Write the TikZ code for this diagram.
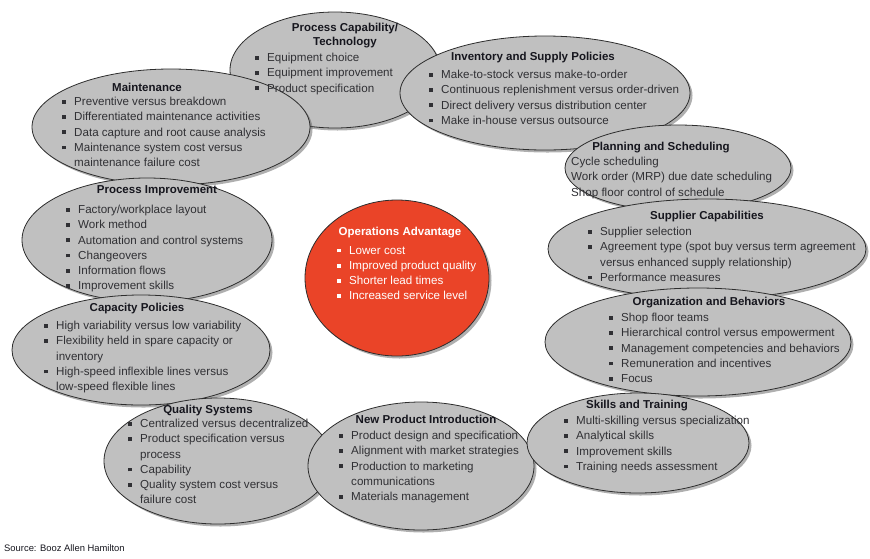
\documentclass[tikz,border=0pt]{standalone}
\usepackage{fontspec}
\setmainfont{Liberation Sans}
\usepackage{tikz}
\usetikzlibrary{shapes.geometric, shadows}
\definecolor{blobgrau}{RGB}{192,192,192}
\definecolor{rand}{RGB}{45,45,45}
\definecolor{schatten}{RGB}{95,95,95}
\definecolor{kern}{RGB}{234,68,40}
\definecolor{schrift}{RGB}{48,48,52}
\definecolor{titel}{RGB}{22,22,30}
\newcommand\itm{\llap{\rule[1.8pt]{3.8pt}{3.8pt}\hspace{8pt}}}

\begin{document}
\begin{tikzpicture}[x=1pt, y=-1pt,
    blob/.style={ellipse, draw=rand, line width=0.8pt, fill=blobgrau,
      drop shadow={shadow xshift=2.5pt, shadow yshift=-2.5pt, fill=schatten}},
    heading/.style={font=\fontsize{11.5}{14}\selectfont\bfseries, text=titel,
      align=center, inner sep=0pt},
    items/.style={font=\fontsize{11.6}{15.2}\selectfont, text=schrift,
      align=left, anchor=north west, inner sep=0pt}]
  \useasboundingbox (0,0) rectangle (870,558);

  % Ellipsen, von unten nach oben
  \node[blob, minimum width=210pt, minimum height=116pt] (cap)  at (335,70)  {};
  \node[blob, minimum width=278pt, minimum height=116pt] (mnt)  at (171,127) {};
  \node[blob, minimum width=290pt, minimum height=114pt] (inv)  at (545,93)  {};
  \node[blob, minimum width=250pt, minimum height=124pt] (imp)  at (147,240) {};
  \node[blob, minimum width=226pt, minimum height=86pt]  (plan) at (678,168) {};
  \node[blob, minimum width=258pt, minimum height=110pt] (cpol) at (141,350) {};
  \node[blob, minimum width=318pt, minimum height=100pt] (sup)  at (707,249) {};
  \node[blob, minimum width=228pt, minimum height=126pt] (qual) at (218,461) {};
  \node[blob, minimum width=306pt, minimum height=108pt] (org)  at (698,342) {};
  \node[blob, minimum width=226pt, minimum height=128pt] (npi)  at (421,466) {};
  \node[blob, minimum width=222pt, minimum height=100pt] (skl)  at (638,443) {};
  \node[blob, fill=kern, minimum width=184pt, minimum height=156pt] (ops) at (397,278) {};

  % Texte
  \node[heading] (capT) at (345,36) {Process Capability/\\Technology};
  \node[items] (capL) at (267,53) {\itm Equipment choice\\\itm Equipment improvement\\
    \itm Product specification};

  \node[heading] (invT) at (533,58) {Inventory and Supply Policies};
  \node[items] (invL) at (441,70) {\itm Make-to-stock versus make-to-order\\
    \itm Continuous replenishment versus order-driven\\
    \itm Direct delivery versus distribution center\\
    \itm Make in-house versus outsource};

  \node[heading] (mntT) at (147,87) {Maintenance};
  \node[items] (mntL) at (74,97) {\itm Preventive versus breakdown\\
    \itm Differentiated maintenance activities\\
    \itm Data capture and root cause analysis\\
    \itm Maintenance system cost versus\\maintenance failure cost};

  \node[heading] (planT) at (661,148) {Planning and Scheduling};
  \node[items] (planL) at (571,157) {Cycle scheduling\\
    Work order (MRP) due date scheduling\\Shop floor control of schedule};

  \node[heading] (impT) at (157,191) {Process Improvement};
  \node[items] (impL) at (78,205) {\itm Factory/workplace layout\\\itm Work method\\
    \itm Automation and control systems\\\itm Changeovers\\
    \itm Information flows\\\itm Improvement skills};

  \node[heading] (supT) at (707,217) {Supplier Capabilities};
  \node[items] (supL) at (600,227) {\itm Supplier selection\\
    \itm Agreement type (spot buy versus term agreement\\
    versus enhanced supply relationship)\\\itm Performance measures};

  \node[heading] (cpolT) at (137,309) {Capacity Policies};
  \node[items] (cpolL) at (56,321) {\itm High variability versus low variability\\
    \itm Flexibility held in spare capacity or\\inventory\\
    \itm High-speed inflexible lines versus\\low-speed flexible lines};

  \node[heading] (orgT) at (709,303) {Organization and Behaviors};
  \node[items] (orgL) at (621,313) {\itm Shop floor teams\\
    \itm Hierarchical control versus empowerment\\
    \itm Management competencies and behaviors\\
    \itm Remuneration and incentives\\\itm Focus};

  \node[heading] (qualT) at (208,411) {Quality Systems};
  \node[items] (qualL) at (140,419) {\itm Centralized versus decentralized\\
    \itm Product specification versus\\process\\\itm Capability\\
    \itm Quality system cost versus\\failure cost};

  \node[heading] (npiT) at (426,419) {New Product Introduction};
  \node[items] (npiL) at (351,431) {\itm Product design and specification\\
    \itm Alignment with market strategies\\\itm Production to marketing\\
    communications\\\itm Materials management};

  \node[heading] (sklT) at (637,406) {Skills and Training};
  \node[items] (sklL) at (576,416) {\itm Multi-skilling versus specialization\\
    \itm Analytical skills\\\itm Improvement skills\\
    \itm Training needs assessment};

  \node[heading, text=white] (opsT) at (400,233) {Operations Advantage};
  \node[items, text=white] (opsL) at (349,246) {\itm Lower cost\\
    \itm Improved product quality\\\itm Shorter lead times\\
    \itm Increased service level};

  % Quelle
  \node[font=\fontsize{9.4}{11}\selectfont, text=titel, anchor=west, inner sep=0pt]
    (quelle) at (4,548) {Source: Booz Allen Hamilton};
\end{tikzpicture}
\end{document}
